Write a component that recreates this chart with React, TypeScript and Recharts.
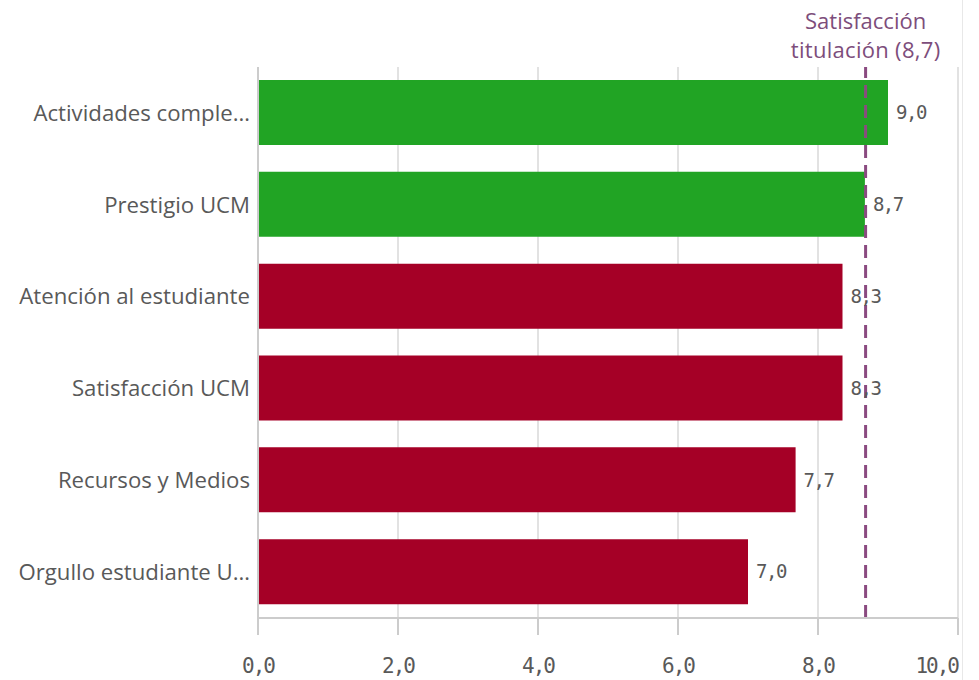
import React from 'react';
import { BarChart, Bar, XAxis, YAxis, CartesianGrid, ReferenceLine, LabelList, Cell } from 'recharts';

const categories = [
  'Actividades comple…',
  'Prestigio UCM',
  'Atención al estudiante',
  'Satisfacción UCM',
  'Recursos y Medios',
  'Orgullo estudiante U…',
];
const values = [9.0, 8.67, 8.35, 8.35, 7.68, 7.0];
const barColors = ['#21a424', '#21a424', '#a50026', '#a50026', '#a50026', '#a50026'];
const xTicks = [0, 2, 4, 6, 8, 10];
const referenceValue = 8.68;
const referenceLabel = ['Satisfacción', 'titulación'];

const data = categories.map((name, i) => ({ name, value: values[i] }));

const fmt = (v: number) => v.toFixed(1).replace('.', ',');

const SANS = '"Open Sans", "Noto Sans", sans-serif';
const MONO = '"DejaVu Sans Mono", monospace';
const TEXT = '#595959';
const PURPLE = '#8a4a80';

const XTick = (props: any) => {
  const { x, y, payload, index, visibleTicksCount } = props;
  const last = index === visibleTicksCount - 1;
  return (
    <text
      x={x}
      y={y}
      dy="0.71em"
      textAnchor={last ? 'end' : 'middle'}
      fill={TEXT}
      fontFamily={MONO}
      fontSize={21}
      letterSpacing={-2}
    >
      {fmt(payload.value)}
    </text>
  );
};

const RefLabel = (props: any) => {
  const { viewBox } = props;
  const cx = viewBox.x;
  const top = viewBox.y;
  return (
    <g>
      <text x={cx} y={top - 38} textAnchor="middle" fill="#7d4d7b" fontFamily={SANS} fontSize={22}>
        {referenceLabel[0]}
      </text>
      <text x={cx} y={top - 9} textAnchor="middle" fill="#7d4d7b" fontFamily={SANS} fontSize={22} letterSpacing={0.3}>
        {`${referenceLabel[1]} (${fmt(referenceValue)})`}
      </text>
    </g>
  );
};

export default function App() {
  return (
    <div style={{ position: 'absolute', left: 0, top: 0, width: 979, height: 680, background: '#fff' }}>
      <div style={{ position: 'absolute', left: 962, top: 0, width: 1, height: 680, background: '#e8e8e8' }} />
      <BarChart
        width={979}
        height={680}
        data={data}
        layout="vertical"
        margin={{ top: 67, right: 21, bottom: 0, left: 0 }}
      >
        <CartesianGrid horizontal={false} vertical={true} stroke="#d9d9d9" strokeWidth={1.5} />
        <XAxis
          type="number"
          domain={[0, 10]}
          ticks={xTicks}
          height={62}
          axisLine={{ stroke: '#cccccc', strokeWidth: 2 }}
          tickLine={{ stroke: '#cccccc', strokeWidth: 2 }}
          tickSize={17}
          tickMargin={23}
          tick={<XTick />}
          interval={0}
        />
        <YAxis
          type="category"
          dataKey="name"
          width={258}
          axisLine={{ stroke: '#cccccc', strokeWidth: 2 }}
          tickLine={false}
          tickSize={0}
          tickMargin={8}
          tick={{ fill: TEXT, fontFamily: SANS, fontSize: 22.2 }}
          interval={0}
        />
        <Bar dataKey="value" barSize={65} isAnimationActive={false}>
          {data.map((d, i) => (
            <Cell key={d.name} fill={barColors[i]} />
          ))}
          <LabelList
            dataKey="value"
            position="right"
            offset={8}
            formatter={(v: any) => fmt(Number(v))}
            style={{ fill: TEXT, fontFamily: MONO, fontSize: 19, letterSpacing: -1.5 }}
          />
        </Bar>
        <ReferenceLine
          x={referenceValue}
          stroke={PURPLE}
          strokeWidth={3}
          strokeDasharray="13 7"
          label={<RefLabel />}
        />
      </BarChart>
    </div>
  );
}
